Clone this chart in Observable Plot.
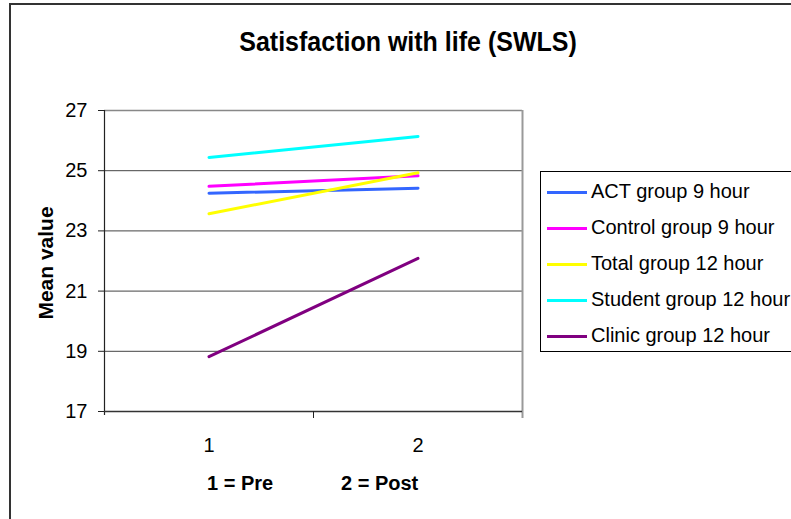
<!DOCTYPE html>
<html>
<head>
<meta charset="utf-8">
<script src="https://cdn.jsdelivr.net/npm/d3@7"></script>
<script src="https://cdn.jsdelivr.net/npm/@observablehq/plot@0.6"></script>
<style>
  html, body { margin: 0; padding: 0; background: #fff; }
  body { font-family: "Liberation Sans", Arial, sans-serif; color: #000; }
  #wrap { position: relative; width: 791px; height: 519px; overflow: hidden; }
  #frame { position: absolute; left: 9px; top: 3px; width: 900px; height: 700px; border: 2px solid #333; box-sizing: border-box; }
  #chart { position: absolute; left: 0; top: 0; }
  .t { position: absolute; white-space: nowrap; line-height: 1; }
  #title { left: 408px; top: 29px; transform: translateX(-50%) scaleY(1.12); font-size: 25px; font-weight: bold; }
  #ylab { left: 45px; top: 263px; transform: translate(-50%, -50%) rotate(-90deg); font-size: 21px; font-weight: bold; }
  .xt { top: 473px; font-size: 20px; font-weight: bold; }
  #legend { position: absolute; left: 540px; top: 171px; width: 300px; height: 181px; border: 1px solid #000; box-sizing: border-box; background: #fff; }
  .li { position: absolute; left: 0; height: 36px; width: 300px; }
  .sw { position: absolute; left: 6px; top: 19px; width: 40px; height: 3px; }
  .lt { position: absolute; left: 50px; top: 9px; font-size: 20px; line-height: 1; white-space: nowrap; }
</style>
</head>
<body>
<div id="wrap">
  <div id="frame"></div>
  <div id="chart"></div>
  <div id="title" class="t">Satisfaction with life (SWLS)</div>
  <div id="ylab" class="t">Mean value</div>
  <div class="t xt" style="left:207px">1 = Pre</div>
  <div class="t xt" style="left:341px">2 = Post</div>
  <div id="legend"></div>
</div>
<script>
// ---- data ----
const times = [1, 2];
const timeLabels = ["1", "2"];
const seriesNames = [
  "ACT group 9 hour",
  "Control group 9 hour",
  "Total group 12 hour",
  "Student group 12 hour",
  "Clinic group 12 hour"
];
const seriesColors = ["#3366ff", "#ff00ff", "#ffff00", "#00ffff", "#800080"];
const actValues = [24.25, 24.42];
const controlValues = [24.48, 24.83];
const totalValues = [23.57, 24.93];
const studentValues = [25.44, 26.14];
const clinicValues = [18.82, 22.09];
const yTicks = [17, 19, 21, 23, 25, 27];
const gridValues = [19, 21, 23, 25];

const allValues = [actValues, controlValues, totalValues, studentValues, clinicValues];
const rows = seriesNames.flatMap((name, i) =>
  times.map((t, j) => ({ time: t, value: allValues[i][j], group: name }))
);

const font = '"Liberation Sans", Arial, sans-serif';

const chart = Plot.plot({
  width: 791,
  height: 519,
  marginLeft: 104,
  marginRight: 269,
  marginTop: 110,
  marginBottom: 108,
  style: { fontFamily: font, fontSize: "20px", color: "#000", background: "transparent" },
  x: { domain: [0.5, 2.5], axis: null },
  y: { domain: [17, 27], axis: null },
  color: { domain: seriesNames, range: seriesColors },
  marks: [
    Plot.ruleY(gridValues, { stroke: "#444", strokeWidth: 1 }),
    Plot.ruleY([27], { stroke: "#888", strokeWidth: 1.5 }),
    Plot.ruleX([2.5], { y1: 16.77, y2: 27, stroke: "#999", strokeWidth: 2 }),
    Plot.ruleX([0.5], { y1: 16.87, y2: 27, stroke: "#222", strokeWidth: 1.2 }),
    Plot.ruleY([17], { stroke: "#333", strokeWidth: 1.5 }),
    Plot.axisY({ ticks: yTicks, tickSize: 6, tickPadding: 11, fontSize: 20, stroke: "#222", label: null }),
    Plot.axisX({ ticks: [1.5], tickSize: 7, tickFormat: () => "", stroke: "#222", label: null }),
    Plot.axisX({ ticks: times, tickSize: 0, tickPadding: 26, tickFormat: (d) => timeLabels[times.indexOf(d)], fontSize: 20, label: null }),
    Plot.line(rows, { x: "time", y: "value", z: "group", stroke: "group", strokeWidth: 3, strokeLinecap: "round" })
  ]
});
document.getElementById("chart").appendChild(chart);

// legend
const legend = document.getElementById("legend");
seriesNames.forEach((name, i) => {
  const item = document.createElement("div");
  item.className = "li";
  item.style.top = (i * 36) + "px";
  const sw = document.createElement("div");
  sw.className = "sw";
  sw.style.background = seriesColors[i];
  const lt = document.createElement("div");
  lt.className = "lt";
  lt.textContent = name;
  item.appendChild(sw);
  item.appendChild(lt);
  legend.appendChild(item);
});
</script>
</body>
</html>
